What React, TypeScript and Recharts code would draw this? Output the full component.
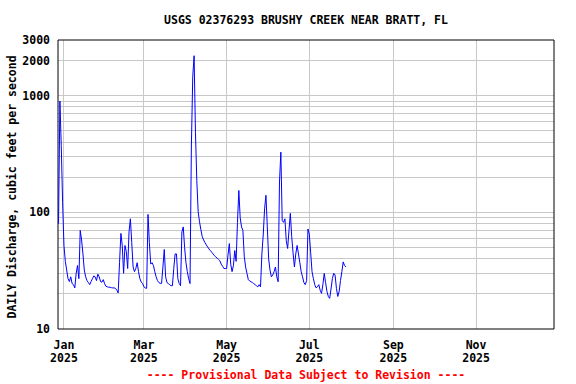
import React from 'react';
import { LineChart, Line, XAxis, YAxis, CartesianGrid, ReferenceArea } from 'recharts';

// day index 0 = Jan 1 2025; record starts Dec 28 2024
const START_DAY = -4;
const dailyFlow = [
  80, 900, 375, 122, 52, 38, 32, 27, 25.5, 28, 24.5, 24, 22.5, 30, 35, 27, 70, 58, 44, 32,
  28, 26, 25, 24, 25.5, 27, 28.5, 28, 26, 29.5, 28, 25.5, 25.2, 26.5, 24.4, 23.2, 23, 22.8, 22.8, 22.6,
  22.5, 22.5, 22.3, 21.5, 20.4, 37, 66, 52, 30, 52, 46, 33, 68, 88, 55, 34, 31, 33, 37, 31,
  27, 25.3, 24.5, 23, 22.5, 22.3, 96, 55, 36, 37, 35, 31, 28, 26, 25, 24.6, 24.6, 34, 48, 28,
  25, 24.5, 24, 23.5, 23.5, 33, 44, 44, 27, 24.6, 23.5, 68, 75, 50, 37, 31, 27, 24.5, 370, 1450,
  2200, 480, 188, 101, 83, 71, 62, 58, 55, 52.5, 50.5, 48.5, 47, 45.5, 44, 42.5, 41.5, 40.5, 39.5, 38.5,
  36, 34.5, 33, 33, 33, 43, 54, 36, 31, 35, 47, 38, 82, 154, 90, 75, 70, 42, 34, 30,
  26.5, 25.8, 25.4, 25, 24.5, 24, 23.5, 23, 24, 23, 44, 64, 107, 140, 75, 40, 32, 28, 29, 31,
  34, 28, 25.4, 182, 328, 85, 82, 88, 57, 49, 70, 98, 62, 45, 34, 44, 52, 44, 37, 31,
  28, 25, 24, 26, 72, 65, 45, 31, 27, 24, 22.5, 23, 24, 21.5, 20.2, 24, 30, 25, 21, 19,
  18.3, 22, 27, 30, 29, 22.3, 19, 21, 26, 31, 37.6, 35, 34,
];

const monthStarts = [0, 59, 120, 181, 243, 304];
const monthLabels = ['Jan', 'Mar', 'May', 'Jul', 'Sep', 'Nov'];
const yearLabel = '2025';
const yTicks = [10, 100, 1000, 2000, 3000];
const yGrid = [20, 30, 40, 50, 60, 70, 80, 90, 100, 200, 300, 400, 500, 600, 700, 800, 900, 1000, 2000];
const xDomain = [-4.4, 361.5];

const data = dailyFlow.map((q, i) => ({ day: START_DAY + i, q }));

const FONT = '"DejaVu Sans Mono", monospace';

const MonthTick = ({ x, y, payload }: any) => {
  const i = monthStarts.indexOf(payload.value);
  return (
    <g>
      <text x={x} y={y + 18} textAnchor="middle" fontFamily={FONT} fontWeight="bold" fontSize={11.5} fill="#000">
        {monthLabels[i]}
      </text>
      <text x={x} y={y + 31} textAnchor="middle" fontFamily={FONT} fontWeight="bold" fontSize={11.5} fill="#000">
        {yearLabel}
      </text>
    </g>
  );
};

export default function App() {
  return (
    <div style={{ position: 'absolute', left: 0, top: 0, width: 576, height: 384, background: '#fff' }}>
      <style>{`.recharts-cartesian-grid line, .recharts-reference-area rect { shape-rendering: crispEdges; }`}</style>
      <LineChart width={576} height={384} data={data} margin={{ top: 40, right: 22, bottom: 15, left: 0 }}>
        <CartesianGrid
          stroke="#c8c8c8"
          horizontalValues={yGrid}
          verticalValues={monthStarts}
        />
        <XAxis
          type="number"
          dataKey="day"
          domain={xDomain}
          ticks={monthStarts}
          allowDataOverflow
          axisLine={false}
          tickLine={false}
          tickSize={0}
          height={40}
          interval={0}
          tick={<MonthTick />}
        />
        <YAxis
          scale="log"
          domain={[10, 3000]}
          ticks={yTicks}
          allowDataOverflow
          axisLine={false}
          tickLine={false}
          tickSize={0}
          tickMargin={8}
          width={58}
          interval={0}
          tick={{ fontFamily: FONT, fontWeight: 'bold', fontSize: 11.5, fill: '#000' }}
        />
        <Line
          type="linear"
          dataKey="q"
          stroke="#0000ff"
          strokeWidth={1}
          dot={false}
          isAnimationActive={false}
        />
        <ReferenceArea
          x1={xDomain[0]}
          x2={xDomain[1]}
          y1={10}
          y2={3000}
          fill="none"
          fillOpacity={0}
          stroke="#000"
          strokeOpacity={1}
          strokeWidth={1}
        />
      </LineChart>
      <svg width={576} height={384} style={{ position: 'absolute', left: 0, top: 0, pointerEvents: 'none' }}>
        <text x={306} y={24} textAnchor="middle" fontFamily={FONT} fontWeight="bold" fontSize={11.5} fill="#000">
          USGS 02376293 BRUSHY CREEK NEAR BRATT, FL
        </text>
        <text
          x={0}
          y={0}
          transform="translate(16,187) rotate(-90)"
          textAnchor="middle"
          fontFamily={FONT}
          fontWeight="bold"
          fontSize={11.5}
          fill="#000"
        >
          DAILY Discharge, cubic feet per second
        </text>
        <text x={306} y={379} textAnchor="middle" fontFamily={FONT} fontWeight="bold" fontSize={11.5} fill="#ff0000">
          ---- Provisional Data Subject to Revision ----
        </text>
      </svg>
    </div>
  );
}
